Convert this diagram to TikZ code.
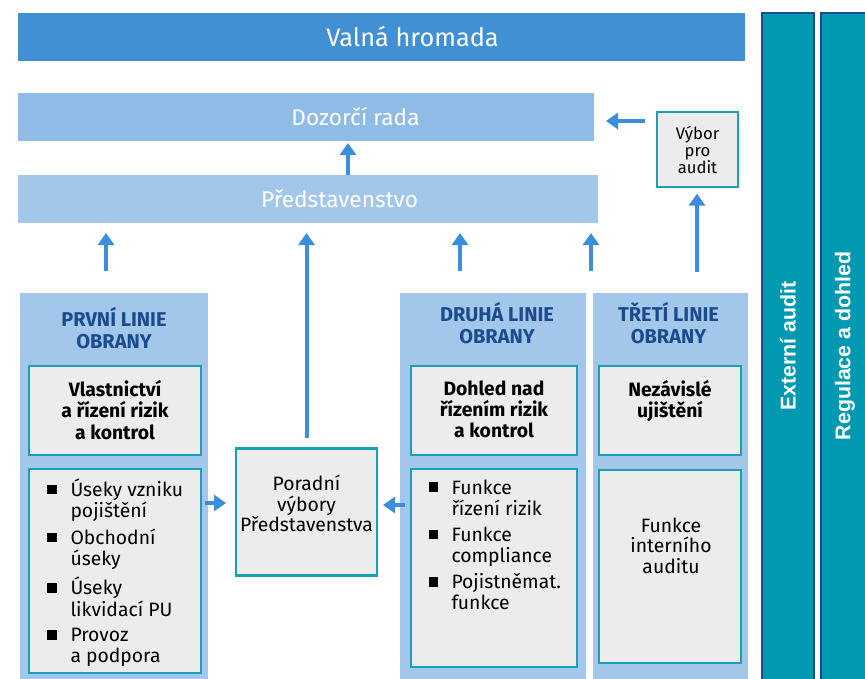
\documentclass[tikz,border=0pt]{standalone}
\usepackage{fontspec}
\setmainfont{Fira Sans}
\newfontfamily\svislepismo{Liberation Sans}
\usepackage{tikz}
\usetikzlibrary{arrows.meta}
\usetikzlibrary{calc}
\definecolor{hromada}{HTML}{4290D4}
\definecolor{rada}{HTML}{8FBCE6}
\definecolor{linie}{HTML}{A3C7EA}
\definecolor{seda}{HTML}{ECECEC}
\definecolor{tyrkys}{HTML}{1AA0B4}
\definecolor{petrol}{HTML}{0099B1}
\definecolor{namornik}{HTML}{1C4A8C}
\definecolor{nadpisbarva}{HTML}{1B4B8C}
\definecolor{sipkabarva}{HTML}{3A8EDC}
\newcommand{\ctverec}{\rule[0.1em]{0.5em}{0.5em}}
\tikzset{every picture/.style={line width=0.75pt}}
\tikzset{
  blok/.style 2 args={minimum width=#1*0.75pt, minimum height=#2*0.75pt, inner sep=0pt, outer sep=0pt},
  pruh/.style={fill=linie, draw=none},
  ramec/.style={fill=seda, draw=tyrkys, line width=2pt},
  sloupec/.style={fill=petrol, draw=namornik, line width=1.5pt},
  bily/.style={text=white, font=\fontsize{17}{20}\selectfont, inner sep=0pt},
  svisly/.style={rotate=90, text=white, font=\svislepismo\bfseries\fontsize{16}{18}\selectfont},
  nadpis/.style={text=nadpisbarva, font=\bfseries\fontsize{15}{16.5}\selectfont, align=center, inner sep=0pt, anchor=north},
  tucny/.style={font=\bfseries\fontsize{14.5}{16}\selectfont, align=center, inner sep=0pt, anchor=north},
  popis/.style={font=\fontsize{14.5}{15.5}\selectfont, align=center, inner sep=0pt, anchor=north},
  seznam/.style={font=\fontsize{14.5}{15}\selectfont, inner sep=0pt, anchor=north west},
  sipka/.style={draw=sipkabarva, line width=3pt, -{Triangle[width=12pt,length=9pt]}}
}
\begin{document}
\begin{tikzpicture}[x=0.75pt,y=0.75pt,yscale=-1,xscale=1]
\useasboundingbox (0,0) rectangle (865,679);

%Shape: Rectangle [valna hromada]
\node[blok={727}{48}, fill=hromada] (vh) at (381.5,37) {};
\node[bily, font=\fontsize{19}{22}\selectfont] (vht) at ($(vh)+(31,0)$) {Valná hromada};
%Shape: Rectangle [externi audit, regulace]
\node[blok={667}{52}, sloupec, svisly] (ext) at (788,346) {Externí audit};
\node[blok={667}{48}, sloupec, svisly] (reg) at (845,346) {Regulace a dohled};
%Shape: Rectangle [dozorci rada, predstavenstvo]
\node[blok={576}{48}, fill=rada] (dr) at (306,117) {};
\node[bily] (drt) at ($(dr)+(49.5,0)$) {Dozorčí rada};
\node[blok={580}{48}, fill=linie] (pr) at (308,199) {};
\node[bily] (prt) at ($(pr)+(31.5,0)$) {Představenstvo};
%Shape: Rectangle [vybor pro audit]
\node[blok={81}{75}, ramec, font=\fontsize{12.5}{12.8}\selectfont, align=center] (vpa) at (697.5,149.5) {Výbor\\pro\\audit};

%Shape: Rectangle [linie obrany]
\node[blok={188}{390}, pruh] (col1) at (114,488) {};
\node[blok={186}{390}, pruh] (col2) at (493,488) {};
\node[blok={155}{390}, pruh] (col3) at (670.5,488) {};
%Shape: Rectangle [vnitrni boxy]
\node[blok={172}{89}, ramec] (c1a) at (115,410.5) {};
\node[blok={172}{204}, ramec] (c1b) at (115,571) {};
\node[blok={166}{89}, ramec] (c2a) at (494,410.5) {};
\node[blok={166}{198}, ramec] (c2b) at (494,568) {};
\node[blok={142}{89}, ramec] (c3a) at (670,410.5) {};
\node[blok={142}{193}, ramec] (c3b) at (670,566.5) {};
%Shape: Rectangle [poradni vybory]
\node[blok={141}{127}, ramec] (pv) at (306.5,512) {};

% Text Node
\node[nadpis] (n1) at ($(col1.north)+(0,14)$) {PRVNÍ LINIE\\OBRANY};
\node[nadpis] (n2) at ($(col2.north)+(4,9)$) {DRUHÁ LINIE\\OBRANY};
\node[nadpis] (n3) at ($(col3.north)+(-2,9)$) {TŘETÍ LINIE\\OBRANY};
% Text Node
\node[tucny] (v1) at ($(c1a.north)+(0,14)$) {Vlastnictví\\a řízení rizik\\a kontrol};
\node[tucny] (v2) at ($(c2a.north)+(0,14)$) {Dohled nad\\řízením rizik\\a kontrol};
\node[tucny] (v3) at ($(c3a.north)+(0,14)$) {Nezávislé\\ujištění};
% Text Node
\node[seznam] (s1) at ($(c1b.north west)+(18,9)$) {\begin{tabular}{@{}l@{\hspace{10pt}}l@{}}
\ctverec & Úseky vzniku\\ & pojištění\\[4pt]
\ctverec & Obchodní\\ & úseky\\[4pt]
\ctverec & Úseky\\ & likvidací PU\\[4pt]
\ctverec & Provoz\\ & a podpora
\end{tabular}};
\node[seznam] (s2) at ($(c2b.north west)+(17,10)$) {\begin{tabular}{@{}l@{\hspace{10pt}}l@{}}
\ctverec & Funkce\\ & řízení rizik\\[4pt]
\ctverec & Funkce\\ & compliance\\[4pt]
\ctverec & Pojistněmat.\\ & funkce
\end{tabular}};
\node[popis] (s3) at ($(c3b.north)+(1,47)$) {Funkce\\interního\\auditu};
\node[popis] (pvt) at ($(pv.north)+(0,26)$) {Poradní\\výbory\\Představenstva};

%Straight Lines [sipky]
\draw[sipka, shorten >=1.5pt] ($(pr.north)+(40,0)$) -- ($(dr.south)+(42,0)$);
\draw[sipka, shorten <=9pt, shorten >=9pt] ($(vpa.west)+(0,-28.5)$) -- ($(dr.east)+(0,4)$);
\coordinate (p1) at (106,271);
\coordinate (p2) at (460,271);
\coordinate (p3) at (591,271);
\coordinate (p4) at (697,272);
\draw[sipka, shorten >=7.5pt] (p1) -- (p1 |- pr.south);
\draw[sipka, shorten >=7.5pt] (p2) -- (p2 |- pr.south);
\draw[sipka, shorten >=7.5pt] (p3) -- (p3 |- pr.south);
\draw[sipka, shorten >=5pt] (p4) -- (p4 |- vpa.south);
\draw[sipka, shorten <=8pt, shorten >=7.5pt] (pv.north) -- (pv.north |- pr.south);
\path ($(pv.west)+(0,-9)$) coordinate (v1);
\path ($(pv.east)+(0,-7)$) coordinate (v2);
\draw[sipka, shorten <=3pt, shorten >=7.5pt] (c1b.east |- v1) -- (v1);
\draw[sipka, shorten <=4.5pt, shorten >=4.5pt] (c2b.west |- v2) -- (v2);

\end{tikzpicture}
\end{document}
